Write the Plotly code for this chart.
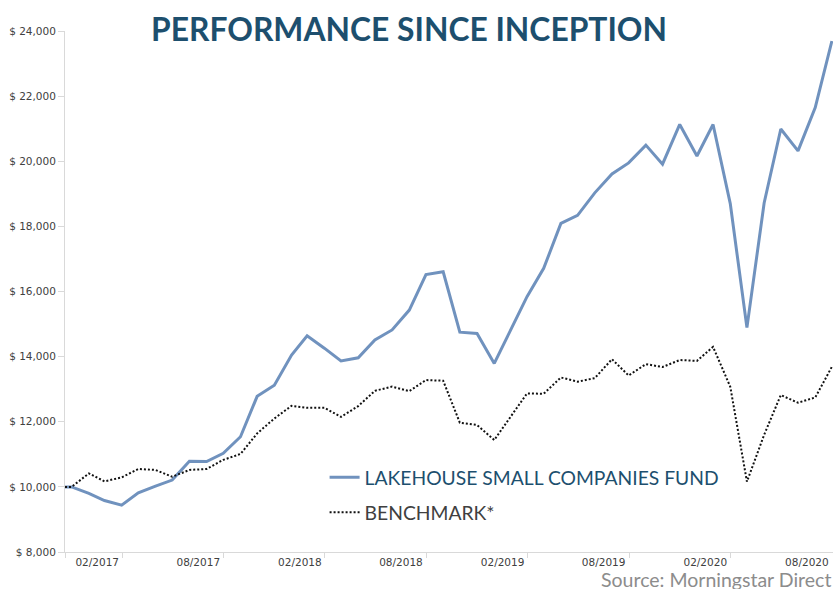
import pandas as pd
import plotly.graph_objects as go

# ---- data ----
inception_date = "2016-12-19"
month_end_dates = pd.date_range("2016-12-31", "2020-09-30", freq="ME")

fund_values = [
    10000,
    9800, 9580, 9440, 9820, 10020, 10210, 10790, 10780, 11030, 11540, 12780, 13120,
    14050, 14640, 14260, 13870, 13965, 14510, 14820, 15430, 16520, 16605, 14750, 14710,
    13790, 14770, 15840, 16710, 18090, 18340, 19030, 19610, 19950, 20495, 19910, 21130,
    20160, 21130, 18700, 14890, 18720, 20990, 20320, 21650, 23690,
]
benchmark_values = [
    10000,
    10415, 10170, 10290, 10550, 10520, 10310, 10520, 10550, 10830, 11010, 11640, 12100,
    12490, 12430, 12430, 12150, 12480, 12950, 13080, 12940, 13280, 13260, 11970, 11900,
    11440, 12120, 12870, 12860, 13360, 13230, 13340, 13920, 13420, 13770, 13680, 13895,
    13870, 14300, 13075, 10160, 11600, 12820, 12585, 12745, 13690,
]
start_value = 10000

label_dates = ["2017-02-15", "2017-08-16", "2018-02-15", "2018-08-16",
               "2019-02-15", "2019-08-16", "2020-02-15", "2020-08-16"]
label_texts = ["02/2017", "08/2017", "02/2018", "08/2018",
               "02/2019", "08/2019", "02/2020", "08/2020"]
tick_mark_dates = [inception_date, "2017-04-01", "2017-10-01", "2018-04-01", "2018-10-01",
                   "2019-04-01", "2019-10-01", "2020-04-01"]

x_dates = [pd.Timestamp(inception_date)] + list(month_end_dates)
fund_y = [start_value] + fund_values
bench_y = [start_value] + benchmark_values

FUND_NAME = "LAKEHOUSE SMALL COMPANIES FUND"
BENCH_NAME = "BENCHMARK*"
TITLE = "PERFORMANCE SINCE INCEPTION"
SOURCE = "Source: Morningstar Direct"

fig = go.Figure()
fig.add_trace(go.Scatter(
    x=x_dates, y=fund_y, mode="lines",
    name="<span style='color:#1d4f6e'>" + FUND_NAME + "</span>",
    line=dict(color="#7092be", width=3),
    legendgroup="a",
))
fig.add_trace(go.Scatter(
    x=x_dates, y=bench_y, mode="lines",
    name="<span style='color:#404040'>" + BENCH_NAME + "</span>",
    line=dict(color="#111111", width=2, dash="2px,2px"),
    legendgroup="b",
))

fig.update_layout(
    width=833, height=589,
    margin=dict(l=65, r=0, t=31, b=37, autoexpand=False),
    paper_bgcolor="white", plot_bgcolor="white",
    font=dict(family="DejaVu Sans", size=10.5, color="#404040"),
    showlegend=True,
    legend=dict(
        x=0.338, y=0.18, xanchor="left", yanchor="top",
        font=dict(family="Lato", size=19.3, color="#404040"),
        bgcolor="rgba(0,0,0,0)", itemwidth=30,
        tracegroupgap=7,
    ),
    xaxis=dict(
        type="date", automargin=False,
        range=["2016-12-19", "2020-10-02"],
        showgrid=False, zeroline=False,
        showline=True, linecolor="#d9d9d9", linewidth=1,
        tickmode="array", tickvals=label_dates, ticktext=label_texts,
        ticks="", tickfont=dict(family="DejaVu Sans", size=10.5, color="#404040"),
        minor=dict(tickmode="array", tickvals=tick_mark_dates, ticks="outside",
                   ticklen=5, tickcolor="#d9d9d9", tickwidth=1, showgrid=False),
    ),
    yaxis=dict(
        automargin=False,
        range=[8000, 24000], dtick=2000, tick0=8000,
        showgrid=False, zeroline=False,
        showline=True, linecolor="#d9d9d9", linewidth=1,
        ticks="outside", ticklen=6, tickcolor="#d9d9d9",
        tickprefix="$ ", tickformat=",d",
        tickfont=dict(family="DejaVu Sans", size=10.5, color="#404040"),
    ),
)

fig.add_annotation(
    text=TITLE, xref="paper", yref="paper",
    x=0.448, y=1.004, xanchor="center", yanchor="middle",
    showarrow=False,
    font=dict(family="Lato", size=31.8, color="#1d4f6e", weight="bold"),
)
fig.add_annotation(
    text=SOURCE, xref="paper", yref="paper",
    x=1.0, y=-0.052, xanchor="right", yanchor="middle",
    showarrow=False,
    font=dict(family="Lato", size=19.5, color="#8c8c8c"),
)

fig.write_html(
    "out.html",
    config={"displayModeBar": False},
    post_script="document.body.style.margin='0';document.body.style.overflow='hidden';",
)
